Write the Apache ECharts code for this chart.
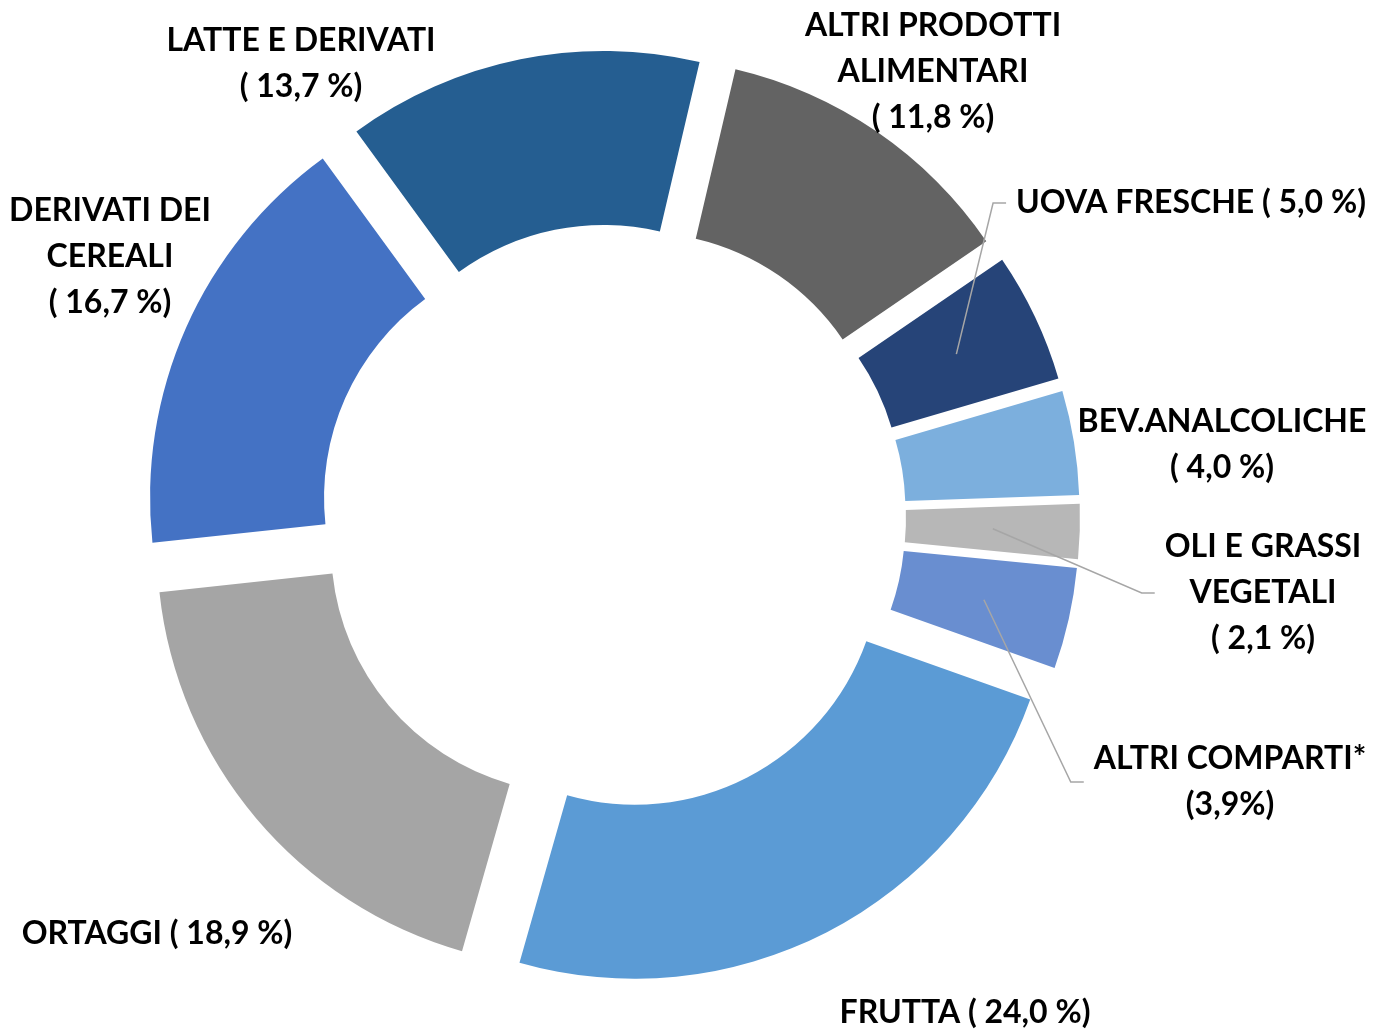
<!DOCTYPE html>
<html><head><meta charset="utf-8">
<script src="https://cdn.jsdelivr.net/npm/echarts@6/dist/echarts.min.js"></script>
<style>html,body{margin:0;padding:0;background:#fff}#c{width:1375px;height:1031px}</style>
</head><body><div id="c"></div>
<script>
// ---- data ----
const categories = ['ALTRI PRODOTTI\nALIMENTARI', 'UOVA FRESCHE', 'BEV.ANALCOLICHE', 'OLI E GRASSI\nVEGETALI', 'ALTRI COMPARTI*', 'FRUTTA', 'ORTAGGI', 'DERIVATI DEI\nCEREALI', 'LATTE E DERIVATI'];
const values = [11.8, 5.0, 4.0, 2.1, 3.9, 24.0, 18.9, 16.7, 13.7];

// ---- label formatting / styling ----
const pctSeparator = ['\n', ' ', '\n', '\n', '\n', ' ', ' ', '\n', '\n'];
const pctCompact = [false, false, false, false, true, false, false, false, false];
const colors = ['#636363', '#264478', '#7CAFDD', '#B7B7B7', '#698ED0', '#5B9BD5', '#A5A5A5', '#4472C4', '#255E91'];
const hasLeader = [false, true, false, true, true, false, false, false, false];
const labelCenters = [[933, 72], [1191, 203], [1222, 445], [1263, 593], [1230, 782], [965, 1013], [157, 934], [110, 257], [301, 64]];

// ---- geometry ----
const CX = 613, CY = 517, R_IN = 246, R_OUT = 420, EXPLODE = 47, START_CW = 13.2;

function pctText(i) {
  const s = values[i].toFixed(1).replace('.', ',');
  return pctCompact[i] ? '(' + s + '%)' : '( ' + s + ' %)';
}
const total = values.reduce((a, b) => a + b, 0);
function midAngleRad(i) {
  let cum = 0;
  for (let k = 0; k < i; k++) cum += values[k];
  const deg = START_CW + 360 * (cum + values[i] / 2) / total;
  return deg * Math.PI / 180;
}

const sliceData = values.map((v, i) => ({
  value: v,
  name: categories[i],
  selected: true,
  itemStyle: { color: colors[i] }
}));
const labelData = values.map((v, i) => ({
  value: v,
  name: categories[i],
  labelLine: { show: hasLeader[i] }
}));

const chart = echarts.init(document.getElementById('c'), null, { renderer: 'canvas' });
chart.setOption({
  animation: false,
  backgroundColor: '#ffffff',
  series: [{
    type: 'pie',
    center: [CX, CY],
    radius: [R_IN, R_OUT],
    startAngle: 90 - START_CW,
    clockwise: true,
    selectedMode: 'multiple',
    selectedOffset: EXPLODE,
    emphasis: { disabled: true, scale: false },
    itemStyle: { borderWidth: 0 },
    label: { show: false },
    labelLine: { show: false },
    data: sliceData
  }, {
    type: 'pie',
    silent: true,
    z: 5,
    center: [CX, CY],
    radius: [R_IN, R_OUT],
    startAngle: 90 - START_CW,
    clockwise: true,
    avoidLabelOverlap: false,
    emphasis: { disabled: true, scale: false },
    itemStyle: { color: 'rgba(0,0,0,0)', borderWidth: 0 },
    label: {
      show: true,
      position: 'outside',
      formatter: p => categories[p.dataIndex] + pctSeparator[p.dataIndex] + pctText(p.dataIndex),
      color: '#000000',
      fontFamily: 'Lato',
      fontWeight: 'bold',
      fontSize: 32,
      lineHeight: 46,
      align: 'center'
    },
    labelLine: {
      length: 10, length2: 10,
      lineStyle: { color: '#A6A6A6', width: 1.5 }
    },
    labelLayout: function (params) {
      const i = params.dataIndex;
      const x = labelCenters[i][0], y = labelCenters[i][1];
      const res = { x: x, y: y, align: 'center', verticalAlign: 'middle' };
      if (hasLeader[i]) {
        const a = midAngleRad(i);
        const d = EXPLODE + (R_IN + R_OUT) / 2;
        const start = [CX + d * Math.sin(a), CY - d * Math.cos(a)];
        const left = x - params.labelRect.width / 2;
        res.labelLinePoints = [start, [left - 23, y], [left - 10, y]];
      }
      return res;
    },
    data: labelData
  }]
});
</script>
</body></html>
